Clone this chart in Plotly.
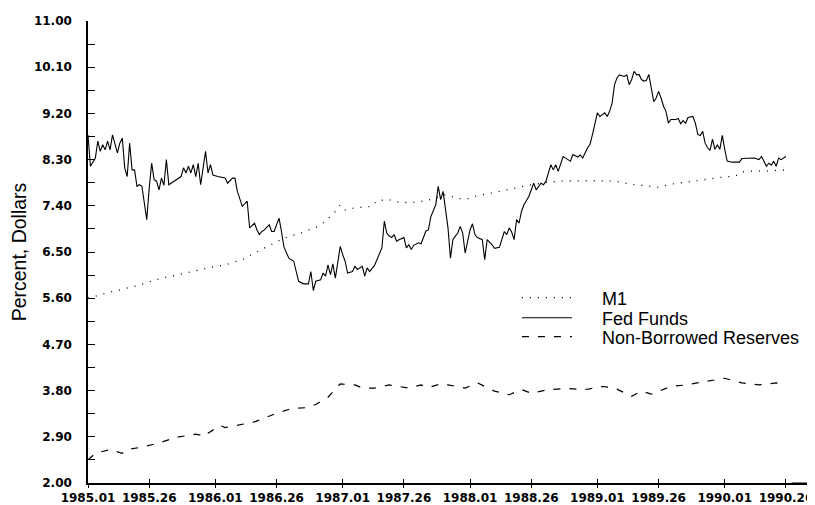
import plotly.graph_objects as go

# weekly index: 0 = 1985.01, 52 weeks per year
tick_weeks = [0, 25, 52, 77, 104, 129, 156, 181, 208, 233, 260, 285]
tick_labels = ["1985.01", "1985.26", "1986.01", "1986.26", "1987.01", "1987.26",
               "1988.01", "1988.26", "1989.01", "1989.26", "1990.01", "1990.26"]

y_ticks = [2.0, 2.9, 3.8, 4.7, 5.6, 6.5, 7.4, 8.3, 9.2, 10.1, 11.0]

m1_weeks = [0, 10, 19, 30, 40, 49, 56, 63, 68, 75, 80, 87, 94, 97, 101, 103, 105, 109,
            116, 118, 123, 127, 132, 138, 142, 146, 151, 156, 159, 163, 169, 176, 181,
            188, 193, 205, 215, 222, 233, 238, 248, 252, 261, 264, 267, 272, 278, 285]
m1_values = [5.60, 5.73, 5.83, 5.99, 6.09, 6.19, 6.25, 6.35, 6.48, 6.64, 6.77, 6.87, 7.00,
             7.10, 7.29, 7.42, 7.32, 7.36, 7.39, 7.50, 7.52, 7.47, 7.46, 7.50, 7.55, 7.62,
             7.54, 7.54, 7.60, 7.63, 7.69, 7.75, 7.81, 7.86, 7.88, 7.89, 7.88, 7.82, 7.76,
             7.82, 7.89, 7.91, 7.97, 7.97, 8.06, 8.08, 8.08, 8.10]

ff_weeks = [0, 1, 3, 4, 5, 6, 7, 8, 9, 10, 12, 13, 14, 15, 16, 17, 18, 19, 20, 21, 22, 23,
            24, 25, 26, 27, 28, 29, 30, 31, 32, 33, 34, 37, 38, 39, 40, 41, 42, 43, 44, 45,
            46, 48, 49, 50, 51, 53, 56, 57, 59, 60, 61, 63, 65, 66, 68, 69, 70, 71, 72, 74,
            75, 76, 78, 79, 80, 82, 84, 86, 88, 90, 91, 92, 93, 95, 96, 97, 98, 99, 100,
            101, 102, 103, 104, 105, 106, 108, 109, 110, 112, 113, 114, 115, 117, 119, 120,
            121, 122, 123, 124, 125, 126, 127, 129, 130, 131, 132, 133, 135, 136, 138, 139,
            140, 142, 143, 144, 145, 146, 147, 148, 149, 150, 151, 152, 153, 154, 155, 156,
            157, 158, 159, 161, 162, 163, 165, 166, 168, 169, 170, 171, 172, 173, 174, 175,
            176, 177, 178, 180, 181, 182, 183, 185, 186, 187, 188, 189, 190, 191, 192, 193,
            194, 196, 197, 198, 200, 201, 202, 204, 205, 206, 208, 209, 211, 212, 213, 214,
            215, 216, 217, 219, 220, 221, 222, 223, 224, 225, 226, 227, 228, 229, 230, 231,
            232, 233, 234, 235, 236, 237, 238, 240, 241, 242, 243, 244, 245, 247, 248, 249,
            250, 251, 252, 253, 254, 255, 256, 257, 258, 259, 260, 261, 263, 266, 267, 270,
            272, 274, 275, 276, 277, 278, 279, 280, 281, 282, 283, 285]
ff_values = [8.78, 8.17, 8.33, 8.66, 8.46, 8.59, 8.49, 8.66, 8.49, 8.78, 8.43, 8.62, 8.72,
             8.14, 7.97, 8.62, 8.10, 8.10, 7.78, 7.81, 7.78, 7.42, 7.13, 7.75, 8.23, 7.91,
             7.88, 7.71, 7.94, 7.80, 8.30, 7.81, 7.84, 7.94, 7.97, 8.14, 8.04, 8.17, 8.04,
             8.20, 7.97, 8.23, 7.81, 8.46, 8.04, 8.20, 8.00, 7.97, 7.94, 7.84, 7.94, 7.94,
             7.68, 7.39, 7.49, 6.97, 7.06, 6.93, 6.84, 6.90, 6.93, 7.03, 6.90, 6.90, 7.16,
             6.90, 6.60, 6.38, 6.32, 5.93, 5.88, 5.88, 6.12, 5.75, 5.93, 5.96, 6.09, 6.03,
             6.25, 6.06, 6.27, 5.99, 6.32, 6.61, 6.45, 6.32, 6.09, 6.12, 6.22, 6.16, 6.22,
             6.03, 6.19, 6.12, 6.24, 6.45, 6.58, 7.10, 6.87, 6.81, 6.78, 6.84, 6.71, 6.74,
             6.78, 6.58, 6.64, 6.55, 6.63, 6.68, 6.66, 6.91, 6.93, 7.19, 7.42, 7.78, 7.52,
             7.68, 7.29, 6.97, 6.38, 6.74, 6.81, 6.87, 7.00, 6.87, 6.48, 6.71, 6.93, 7.05,
             6.84, 6.78, 6.74, 6.35, 6.74, 6.64, 6.57, 6.59, 6.74, 6.90, 6.84, 6.97, 6.89,
             6.74, 7.13, 7.06, 7.29, 7.42, 7.58, 7.71, 7.84, 7.71, 7.84, 7.81, 7.88, 8.04,
             8.20, 8.10, 8.20, 8.07, 8.23, 8.36, 8.30, 8.27, 8.40, 8.35, 8.39, 8.33, 8.53,
             8.60, 8.79, 9.21, 9.14, 9.21, 9.14, 9.24, 9.40, 9.76, 9.89, 9.95, 9.92, 9.95,
             9.76, 9.86, 10.02, 9.95, 9.96, 9.86, 9.83, 9.84, 9.96, 9.69, 9.43, 9.50, 9.63,
             9.50, 9.34, 9.24, 9.01, 9.08, 9.08, 9.10, 9.00, 9.06, 9.01, 9.12, 9.14, 9.01,
             8.79, 8.77, 8.85, 8.62, 8.53, 8.48, 8.70, 8.50, 8.59, 8.50, 8.77, 8.50, 8.27,
             8.25, 8.25, 8.32, 8.32, 8.33, 8.30, 8.36, 8.27, 8.17, 8.23, 8.19, 8.27, 8.17,
             8.33, 8.30, 8.36]

nbr_weeks = [0, 3, 9, 14, 16, 22, 29, 36, 44, 48, 49, 54, 56, 61, 68, 76, 83, 90, 93, 98,
             103, 109, 112, 117, 123, 131, 136, 139, 144, 147, 154, 159, 166, 172, 177, 181,
             188, 196, 203, 210, 215, 222, 226, 230, 238, 244, 253, 260, 267, 274, 281, 285]
nbr_values = [2.45, 2.58, 2.65, 2.58, 2.65, 2.70, 2.78, 2.89, 2.95, 2.91, 2.97, 3.12, 3.08,
              3.12, 3.19, 3.34, 3.45, 3.47, 3.53, 3.67, 3.93, 3.91, 3.85, 3.85, 3.91, 3.85,
              3.91, 3.86, 3.93, 3.91, 3.85, 3.95, 3.79, 3.72, 3.82, 3.75, 3.82, 3.84, 3.82,
              3.88, 3.85, 3.69, 3.79, 3.73, 3.88, 3.91, 3.99, 4.04, 3.95, 3.91, 3.95, 3.93]

gap = "\u00a0" * 5  # extra room between legend sample and its text

fig = go.Figure()
fig.add_trace(go.Scatter(x=m1_weeks, y=m1_values, mode="lines", name=gap + "M1",
                         line=dict(color="black", width=1.3, dash="1px,7px"),
                         legend="legend"))
fig.add_trace(go.Scatter(x=ff_weeks, y=ff_values, mode="lines", name=gap + "Fed Funds",
                         line=dict(color="black", width=1.1),
                         legend="legend2"))
fig.add_trace(go.Scatter(x=nbr_weeks, y=nbr_values, mode="lines",
                         name=gap + "Non-Borrowed Reserves",
                         line=dict(color="black", width=1.2, dash="7px,9px"),
                         legend="legend3"))
# second x axis only for the upper half of the tick crosses
fig.add_trace(go.Scatter(x=[0], y=[2], xaxis="x2", mode="markers",
                         marker=dict(opacity=0), showlegend=False, hoverinfo="skip"))

legend_style = dict(x=0.586, xanchor="left", yanchor="middle", bgcolor="rgba(0,0,0,0)",
                    borderwidth=0, itemwidth=50,
                    font=dict(family="Liberation Sans, Arial", size=18, color="black"))

fig.update_layout(
    width=815, height=505,
    margin=dict(l=80, r=3, t=13, b=30),
    paper_bgcolor="white",
    plot_bgcolor="white",
    legend=dict(legend_style, y=(475 - 290) / 462),
    legend2=dict(legend_style, y=(475 - 310) / 462),
    legend3=dict(legend_style, y=(475 - 329) / 462),
    xaxis=dict(
        range=[0, 298.9],
        tickvals=tick_weeks, ticktext=tick_labels,
        ticks="outside", ticklen=3, tickwidth=1, tickcolor="black",
        showline=True, linecolor="black", linewidth=1.5,
        showgrid=False, zeroline=False,
        tickfont=dict(family="DejaVu Sans", size=12, color="black", weight="bold"),
    ),
    xaxis2=dict(
        overlaying="x", matches="x", side="bottom", anchor="y",
        tickvals=tick_weeks, ticks="inside", ticklen=4, tickwidth=1, tickcolor="black",
        showticklabels=False, showgrid=False, zeroline=False, showline=False,
    ),
    yaxis=dict(
        range=[2, 11],
        tickvals=y_ticks, ticktext=["%.2f" % v for v in y_ticks],
        ticks="inside", ticklen=7, tickwidth=1, tickcolor="black",
        minor=dict(dtick=0.45, tick0=2, ticks="inside", ticklen=7, tickcolor="black"),
        showline=True, linecolor="black", linewidth=1.5,
        showgrid=False, zeroline=False,
        ticklabelstandoff=12,
        tickfont=dict(family="DejaVu Sans", size=12, color="black", weight="bold"),
        title=dict(text="Percent, Dollars", standoff=6,
                   font=dict(family="Liberation Sans, Arial", size=19.5, color="black")),
    ),
    annotations=[dict(xref="paper", yref="paper", x=1.0, y=0, ax=-30, ay=0,
                      showarrow=True, arrowhead=4, arrowsize=1.6, arrowwidth=1.2,
                      arrowcolor="black", text="")],
)

fig.write_html("out.html")
